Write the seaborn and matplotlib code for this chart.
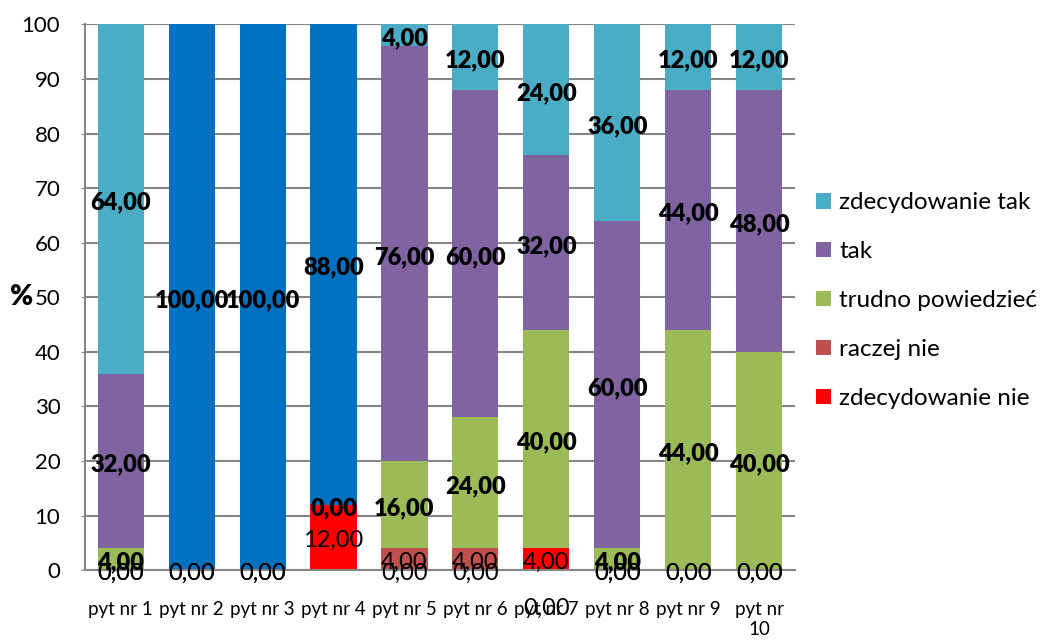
import numpy as np
import pandas as pd
import seaborn as sns
import matplotlib.pyplot as plt
from matplotlib.patches import Patch

# Dane
pytania = ['pyt nr 1', 'pyt nr 2', 'pyt nr 3', 'pyt nr 4', 'pyt nr 5',
           'pyt nr 6', 'pyt nr 7', 'pyt nr 8', 'pyt nr 9', 'pyt nr 10']
etykiety_osi = ['pyt nr 1', 'pyt nr 2', 'pyt nr 3', 'pyt nr 4', 'pyt nr 5',
                'pyt nr 6', 'pyt nr 7', 'pyt nr 8', 'pyt nr 9', 'pyt nr\n10']

zdecydowanie_nie = [0, 0, 0, 12, 0, 0, 4, 0, 0, 0]
raczej_nie = [0, 0, 0, 0, 4, 4, 0, 0, 0, 0]
trudno_powiedziec = [4, 0, 0, 0, 16, 24, 40, 4, 44, 40]
tak = [32, 100, 100, 88, 76, 60, 32, 60, 44, 48]
zdecydowanie_tak = [64, 0, 0, 0, 4, 12, 24, 36, 12, 12]

# kolejnosc od dolu do gory
serie = ['zdecydowanie nie', 'raczej nie', 'trudno powiedzieć', 'tak', 'zdecydowanie tak']
wartosci = [zdecydowanie_nie, raczej_nie, trudno_powiedziec, tak, zdecydowanie_tak]
kolory = ['#FF0000', '#C0504D', '#9BBB59', '#8064A2', '#4BACC6']
pogrubione = [False, False, True, True, True]
kolor_tak_wyjatki = {1: '#0070C0', 2: '#0070C0', 3: '#0070C0'}  # pyt 2-4 na niebiesko

# etykiety ukryte (seria, pytanie) i przesuniete
ukryte = {(4, 1), (4, 2), (4, 3), (2, 1), (2, 2)}
przesuniete = {(1, 6): -6.4}

dane = pd.DataFrame(np.array(wartosci).T, columns=serie)
dane['pytanie'] = pytania
skumulowane = dane[serie].cumsum(axis=1)

plt.rcParams['font.family'] = ['Lato', 'DejaVu Sans']
fig = plt.figure(figsize=(10.4, 6.4), dpi=100)
ax = fig.add_axes([0.082, 0.109, 0.682, 0.853])

# slupki skumulowane - rysowane od gory
for i in reversed(range(len(serie))):
    s = serie[i]
    if s == 'tak':
        paleta = [kolor_tak_wyjatki.get(j, kolory[i]) for j in range(len(pytania))]
        sns.barplot(x=pytania, y=skumulowane[s], hue=pytania, palette=paleta,
                    legend=False, width=0.65, saturation=1, linewidth=0, ax=ax)
    else:
        sns.barplot(x=pytania, y=skumulowane[s], color=kolory[i],
                    width=0.65, saturation=1, linewidth=0, ax=ax)

# etykiety danych
for i, s in enumerate(serie):
    for j in range(len(pytania)):
        if (i, j) in ukryte:
            continue
        v = dane[s][j]
        y = skumulowane[s][j] - v / 2
        if (i, j) in przesuniete:
            y = przesuniete[(i, j)]
        ax.text(j, y - 0.6, f'{v:.2f}'.replace('.', ','), ha='center', va='center',
                fontsize=17, fontweight='heavy' if pogrubione[i] else 'normal',
                color='black', zorder=5)

ax.set_ylim(0, 100)
ax.set_xlim(-0.5, len(pytania) - 0.5)
ax.set_yticks(range(0, 101, 10))
ax.set_xticks(range(len(pytania)))
ax.set_xticklabels(etykiety_osi)
ax.tick_params(axis='y', labelsize=16, length=3, pad=15, color='#868686')
ax.tick_params(axis='x', labelsize=13.5, length=0, pad=22)
ax.yaxis.grid(True, color='#868686', linewidth=1.5)
ax.set_axisbelow(True)
for k in ['top', 'right']:
    ax.spines[k].set_visible(False)
for k in ['left', 'bottom']:
    ax.spines[k].set_color('#868686')
    ax.spines[k].set_linewidth(1.5)
ax.set_xlabel('')
ax.set_ylabel('%', rotation=0, fontsize=20, fontweight='heavy', ha='center', va='center')
ax.yaxis.set_label_coords(-0.09, 0.5)

uchwyty = [Patch(facecolor=kolory[i], label=serie[i]) for i in reversed(range(len(serie)))]
fig.legend(handles=uchwyty, loc='center left', bbox_to_anchor=(0.785, 0.53),
           frameon=False, fontsize=17.5, handlelength=0.6, handleheight=0.6,
           handletextpad=0.35, labelspacing=1.15, borderpad=0, borderaxespad=0)

fig.savefig('out.png', dpi=100)
